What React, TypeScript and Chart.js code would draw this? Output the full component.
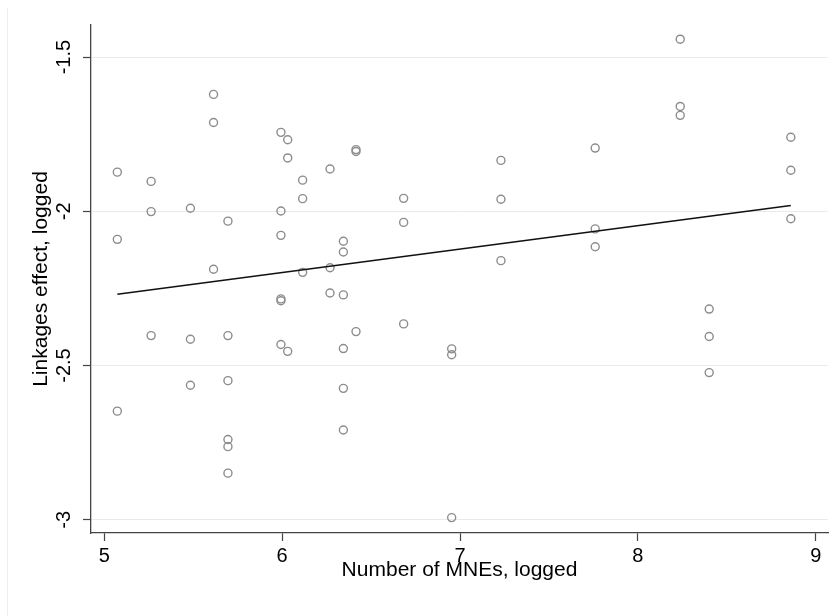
import React, { useEffect, useRef } from "react";
import { Chart, registerables } from "chart.js";

Chart.register(...registerables);

// Data
const xValues = [
  5.073, 5.073, 5.073,
  5.263, 5.263, 5.263,
  5.484, 5.484, 5.484,
  5.614, 5.614, 5.614,
  5.695, 5.695, 5.695, 5.695, 5.695, 5.695,
  5.993, 5.993, 5.993, 5.993, 5.993, 5.993,
  6.031, 6.031, 6.031,
  6.115, 6.115, 6.115,
  6.269, 6.269, 6.269,
  6.344, 6.344, 6.344, 6.344, 6.344, 6.344,
  6.415, 6.415, 6.415,
  6.683, 6.683, 6.683,
  6.953, 6.953, 6.953,
  7.23, 7.23, 7.23,
  7.76, 7.76, 7.76,
  8.238, 8.238, 8.238,
  8.401, 8.401, 8.401,
  8.86, 8.86, 8.86,
];
const yValues = [
  -1.873, -2.091, -2.648,
  -1.903, -2.001, -2.403,
  -1.99, -2.415, -2.564,
  -1.621, -1.712, -2.188,
  -2.032, -2.403, -2.549, -2.74, -2.763, -2.849,
  -1.744, -1.999, -2.078, -2.284, -2.29, -2.432,
  -1.768, -1.827, -2.454,
  -1.899, -1.959, -2.198,
  -1.863, -2.183, -2.265,
  -2.097, -2.132, -2.271, -2.445, -2.574, -2.709,
  -1.8, -1.806, -2.39,
  -1.958, -2.036, -2.365,
  -2.446, -2.465, -2.993,
  -1.835, -1.961, -2.16,
  -1.795, -2.057, -2.115,
  -1.442, -1.66, -1.689,
  -2.317, -2.406, -2.523,
  -1.76, -1.867, -2.024,
];
const fitX = [5.073, 8.86];
const fitY = [-2.269, -1.981];

const xTicks = [5, 6, 7, 8, 9];
const xTickLabels = ["5", "6", "7", "8", "9"];
const yTicks = [-3, -2.5, -2, -1.5];
const yTickLabels = ["-3", "-2.5", "-2", "-1.5"];
const xTitle = "Number of MNEs, logged";
const yTitle = "Linkages effect, logged";

const FONT = "'Liberation Sans', Arial, Helvetica, sans-serif";

const frameLine = {
  id: "frameLine",
  beforeDraw(chart: any) {
    const ctx = chart.ctx;
    ctx.save();
    ctx.strokeStyle = "#eeeeee";
    ctx.lineWidth = 1;
    ctx.beginPath();
    ctx.moveTo(7.5, 8);
    ctx.lineTo(7.5, 616);
    ctx.stroke();
    ctx.restore();
  },
};

export default function App() {
  const canvasRef = useRef<HTMLCanvasElement | null>(null);

  useEffect(() => {
    const canvas = canvasRef.current;
    if (!canvas) return;
    Chart.defaults.font.family = FONT;
    const points = xValues.map((x, i) => ({ x, y: yValues[i] }));
    const fit = fitX.map((x, i) => ({ x, y: fitY[i] }));

    const chart = new Chart(canvas, {
      type: "scatter",
      data: {
        datasets: [
          {
            type: "line",
            data: fit,
            borderColor: "#111111",
            borderWidth: 1.6,
            pointRadius: 0,
            fill: false,
            tension: 0,
          } as any,
          {
            type: "scatter",
            data: points,
            pointStyle: "circle",
            pointRadius: 4,
            pointBorderWidth: 1.4,
            borderColor: "#8c8c8c",
            backgroundColor: "rgba(0,0,0,0)",
          } as any,
        ],
      },
      options: {
        responsive: false,
        animation: false,
        devicePixelRatio: 1,
        layout: { padding: { left: 29, right: 12, top: 25, bottom: 33 } },
        plugins: {
          legend: { display: false },
          tooltip: { enabled: false },
        },
        scales: {
          x: {
            type: "linear",
            min: 4.925,
            max: 9.069,
            afterBuildTicks: (s: any) => {
              s.ticks = xTicks.map((v) => ({ value: v }));
            },
            afterFit: (s: any) => {
              s.height = 50;
            },
            ticks: {
              callback: (v: any) => xTickLabels[xTicks.indexOf(Number(v))],
              font: { family: FONT, size: 20 },
              color: "#000000",
              padding: 3,
              maxRotation: 0,
              autoSkip: false,
            },
            grid: {
              drawOnChartArea: false,
              drawTicks: true,
              tickLength: 8,
              tickColor: "#444444",
              tickWidth: 1.2,
            },
            border: { display: true, color: "#444444", width: 1.3 },
            title: {
              display: true,
              text: xTitle,
              font: { family: FONT, size: 21 },
              color: "#000000",
              padding: 0,
            },
          },
          y: {
            type: "linear",
            min: -3.043,
            max: -1.396,
            afterBuildTicks: (s: any) => {
              s.ticks = yTicks.map((v) => ({ value: v }));
            },
            afterFit: (s: any) => {
              s.width = 62;
            },
            ticks: {
              callback: (v: any) => yTickLabels[yTicks.indexOf(Number(v))],
              font: { family: FONT, size: 20 },
              color: "#000000",
              padding: 1,
              minRotation: 90,
              maxRotation: 90,
              crossAlign: "center",
              autoSkip: false,
            },
            grid: {
              drawOnChartArea: true,
              color: "#e3ecef",
              lineWidth: 1,
              drawTicks: true,
              tickLength: 8,
              tickColor: "#444444",
              tickWidth: 1.2,
            },
            border: { display: true, color: "#444444", width: 1.3 },
            title: {
              display: true,
              text: yTitle,
              font: { family: FONT, size: 21 },
              color: "#000000",
              padding: 0,
            },
          },
        },
      } as any,
      plugins: [frameLine],
    });
    return () => chart.destroy();
  }, []);

  return (
    <div style={{ position: "absolute", left: 0, top: 0, width: 840, height: 616, background: "#ffffff" }}>
      <canvas ref={canvasRef} width={840} height={616} style={{ display: "block", width: 840, height: 616 }} />
    </div>
  );
}
